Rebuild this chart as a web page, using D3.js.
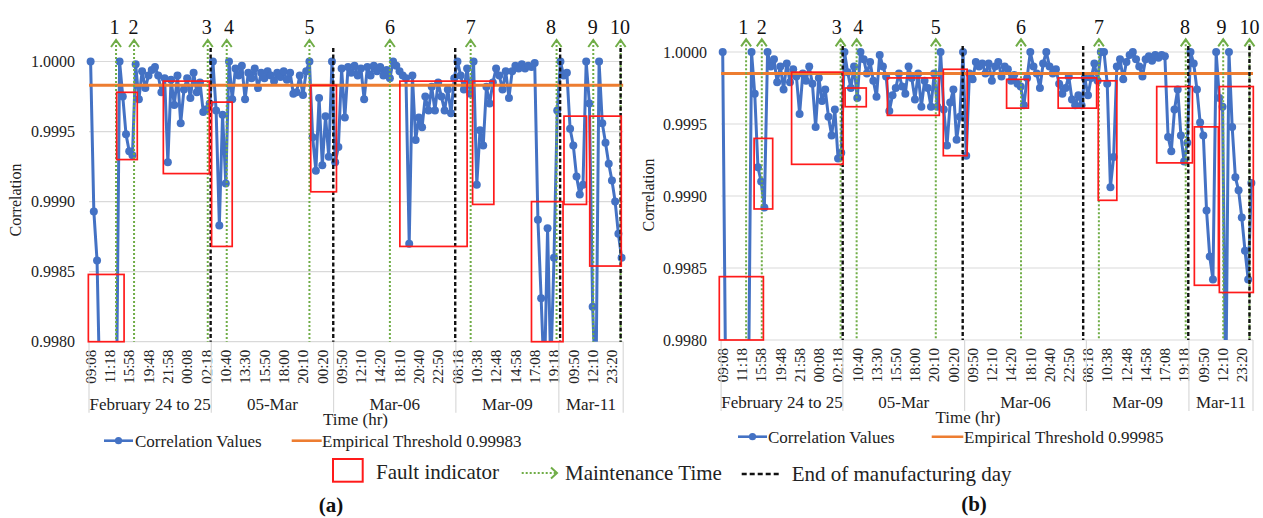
<!DOCTYPE html>
<html><head><meta charset="utf-8">
<script src="https://cdn.jsdelivr.net/npm/d3@7"></script>
<style>
body{margin:0;background:#fff}
</style>
</head><body>
<svg id="chart" width="1263" height="518" font-family="'Liberation Serif', Tinos, 'DejaVu Serif', serif"></svg>
<script>
// ---------------- DATA ----------------
const tickLabels = ["09:08","11:18","15:58","19:48","21:58","00:08","02:18",
  "10:40","13:30","15:50","18:00","20:10","00:20",
  "09:50","12:10","14:20","18:10","20:40","22:50",
  "08:18","10:38","12:48","14:58","17:08","19:18",
  "09:50","12:10","23:20"];
const tickEvery = 6;
const nCategories = 166;
const groupNames = ["February 24 to 25","05-Mar","Mar-06","Mar-09","Mar-11"];
const groupStarts = [0,38,76,114,146];
const yTicks = [0.9980,0.9985,0.9990,0.9995,1.0000];
const yDomain = [0.998,1.0];

const correlationA = [
1.00000,0.99893,0.99858,0.99750,0.99750,0.99750,0.99750,0.99750,0.99750,1.00000,
0.99975,0.99948,0.99936,0.99933,0.99998,0.99973,0.99993,0.99981,0.99990,0.99994,
0.99996,0.99990,0.99978,0.99988,0.99928,0.99987,0.99969,0.99990,0.99956,0.99980,
0.99988,0.99974,0.99992,0.99978,0.99985,0.99964,0.99966,0.99970,1.00000,0.99965,
0.99883,0.99962,0.99913,1.00000,0.99973,0.99995,0.99990,0.99997,0.99973,0.99992,
0.99988,0.99995,0.99981,0.99992,0.99988,0.99993,0.99990,0.99986,0.99992,0.99989,
0.99993,0.99987,0.99992,0.99977,0.99978,0.99990,0.99976,0.99993,1.00000,0.99946,
0.99922,0.99974,0.99926,0.99961,0.99932,1.00000,0.99928,0.99939,0.99995,0.99960,
0.99996,0.99992,0.99997,0.99990,0.99995,0.99973,0.99996,0.99990,0.99997,0.99993,
0.99996,0.99990,0.99994,0.99988,1.00000,0.99997,0.99993,0.99990,0.99988,0.99870,
0.99990,0.99944,0.99960,0.99953,0.99975,0.99965,0.99982,0.99965,0.99985,0.99975,
0.99965,0.99980,0.99963,0.99988,1.00000,0.99990,0.99980,0.99995,0.99977,1.00000,
0.99912,0.99951,0.99940,0.99982,0.99970,0.99985,0.99995,0.99990,0.99980,0.99993,
0.99974,0.99993,0.99997,0.99995,0.99998,0.99995,0.99997,0.99996,0.99999,0.99887,
0.99831,0.99770,0.99881,0.99780,0.99860,0.99965,1.00000,0.99990,0.99992,0.99952,
0.99940,0.99918,0.99905,0.99912,1.00000,0.99970,0.99825,0.99760,1.00000,0.99956,
0.99942,0.99927,0.99915,0.99900,0.99877,0.99860];

const correlationB = [
1.00000,0.99750,0.99750,0.99750,0.99750,0.99750,0.99750,0.99750,0.99750,1.00000,
0.99971,0.99920,0.99910,0.99892,1.00000,0.99990,0.99995,0.99979,0.99990,0.99974,
0.99992,0.99979,0.99988,0.99983,0.99957,0.99985,0.99980,0.99990,0.99978,0.99948,
0.99982,0.99966,0.99974,0.99955,0.99942,0.99960,0.99926,0.99930,1.00000,0.99986,
0.99975,0.99990,0.99968,1.00000,0.99995,0.99985,0.99993,0.99980,0.99969,0.99998,
0.99990,0.99983,0.99959,0.99970,0.99975,0.99985,0.99976,0.99971,0.99990,0.99982,
0.99967,0.99985,0.99962,0.99980,0.99975,0.99962,0.99985,0.99962,1.00000,0.99960,
0.99935,0.99965,0.99974,0.99939,0.99955,1.00000,0.99928,0.99985,0.99981,0.99993,
0.99990,0.99992,0.99985,0.99992,0.99980,0.99990,0.99993,0.99983,0.99990,0.99988,
0.99980,0.99984,0.99978,0.99976,0.99963,0.99982,1.00000,0.99990,0.99985,0.99975,
0.99992,1.00000,0.99990,0.99985,0.99988,0.99978,0.99971,0.99975,0.99983,0.99967,
0.99963,0.99970,0.99963,0.99982,0.99970,0.99982,0.99992,0.99980,1.00000,1.00000,
0.99978,0.99906,0.99927,0.99990,0.99995,0.99981,0.99993,0.99998,1.00000,0.99995,
0.99990,0.99983,0.99995,0.99997,0.99994,0.99998,0.99996,0.99998,0.99997,0.99941,
0.99931,0.99960,0.99974,0.99942,0.99924,0.99937,1.00000,0.99992,0.99974,0.99951,
0.99942,0.99890,0.99858,0.99842,1.00000,0.99968,0.99962,0.99760,1.00000,0.99948,
0.99913,0.99904,0.99885,0.99862,0.99842,0.99909];

const thresholdA = 0.99983;
const thresholdB = 0.99985;
const maintenanceLabels = ["1","2","3","4","5","6","7","8","9","10"];
const maintenanceA = [8.4,14.0,36.9,42.8,68.5,93.5,118.6,145.3,156.7,165.2];
const maintenanceB = [7.8,12.7,37.3,42.3,67.0,93.6,117.9,145.0,156.7,164.9];
const labelPosA = [7.9,13.8,36.6,43.5,68.5,93.5,118.6,143.6,156.5,165.0];
const labelPosB = [6.9,12.7,36.1,42.8,67.0,93.6,117.9,144.8,156.2,164.9];
const endOfDayA = [37.8,75.9,113.8,146.4,165.2];
const endOfDayB = [37.95,75.4,113.0,145.8,164.9];
// fault boxes: [category from, category to, upper value, lower value]
const faultsA = [
 [8.6,15.0,0.99978,0.99930],[23.1,37.4,0.99986,0.99920],[38.1,44.5,0.99971,0.99868],
 [68.9,76.9,0.99983,0.99907],[96.6,117.5,0.99986,0.99868],[119.2,125.8,0.99986,0.99898],
 [137.5,147.3,0.99900,0.99800],[147.6,154.6,0.99961,0.99898],[155.6,165.4,0.99961,0.99854],
 [-0.2,10.9,0.99848,0.99800]];
const faultsB = [
 [10.3,16.1,0.99940,0.99891],[22.0,38.1,0.99986,0.99922],[38.7,45.3,0.99975,0.99962],
 [51.9,68.1,0.99982,0.99956],[69.35,76.8,0.99988,0.99928],[89.1,95.9,0.99981,0.99961],
 [105.2,117.2,0.99982,0.99961],[117.7,123.5,0.99980,0.99897],[135.95,147.1,0.99976,0.99923],
 [147.7,155.2,0.99948,0.99838],[155.5,166.1,0.99976,0.99833],[-0.56,13.2,0.99844,0.99800]];

// ---------------- LAYOUT ----------------
const FONT = "'Liberation Serif', Tinos, 'DejaVu Serif', serif";
const BLUE="#4472c4", ORANGE="#ed7d31", GREEN="#70ad47", RED="#ff1a1a", GRID="#d9d9d9", INK="#222";
const svg = d3.select("#chart");

const panels = [
 {id:"a", left:89, right:623.2, top:61.5, bottom:341.7, values:correlationA, thr:thresholdA,
  maint:maintenanceA, lpos:labelPosA, eod:endOfDayA, faults:faultsA, arrowTop:40, dashTop:48,
  yTitle:[15,200], timeTitle:[355.5,425],
  leg:{y:440.7, bx0:104, bx1:133, tx:135, ox0:291.7, ox1:321.7, otx:322}, label:[331,512]},
 {id:"b", left:721.1, right:1253, top:52, bottom:340, values:correlationB, thr:thresholdB,
  maint:maintenanceB, lpos:labelPosB, eod:endOfDayB, faults:faultsB, arrowTop:39.3, dashTop:46,
  yTitle:[648,195], timeTitle:[968,423],
  leg:{y:436.7, bx0:738, bx1:767, tx:768, ox0:931.7, ox1:963.3, otx:964}, label:[974,511]}
];

function txt(sel){ return sel.append("text").attr("font-family",FONT).attr("fill",INK); }

panels.forEach(p => {
  const g = svg.append("g");
  const x = d3.scaleLinear().domain([0,nCategories]).range([p.left,p.right]);
  const y = d3.scaleLinear().domain(yDomain).range([p.bottom,p.top]);

  // gridlines
  g.selectAll(".grid").data(yTicks).join("line")
    .attr("x1",p.left).attr("x2",p.right)
    .attr("y1",d=>y(d)).attr("y2",d=>y(d))
    .attr("stroke",GRID).attr("stroke-width",1.2);
  // y tick labels
  g.selectAll(".ytl").data(yTicks).join("text")
    .attr("font-family",FONT).attr("fill",INK)
    .attr("x",p.left-14).attr("y",d=>y(d)).attr("dy","0.35em")
    .attr("text-anchor","end").attr("font-size",16)
    .text(d=>d3.format(".4f")(d));
  // y title
  txt(g).attr("transform",`translate(${p.yTitle[0]},${p.yTitle[1]}) rotate(-90)`)
    .attr("text-anchor","middle").attr("dy","0.35em").attr("font-size",16).text("Correlation");

  // x tick labels
  g.selectAll(".xtl").data(tickLabels).join("text")
    .attr("font-family",FONT).attr("fill",INK)
    .attr("transform",(d,k)=>`translate(${x(k*tickEvery+0.5)},${p.bottom+8}) rotate(-90)`)
    .attr("text-anchor","end").attr("dy","0.35em").attr("font-size",15).text(d=>d);
  // group separators
  const seps = groupStarts.concat([nCategories]);
  g.selectAll(".sep").data(seps).join("line")
    .attr("x1",d=>x(d)).attr("x2",d=>x(d))
    .attr("y1",p.bottom).attr("y2",p.bottom+71)
    .attr("stroke",GRID).attr("stroke-width",1.2);
  g.selectAll(".grp").data(groupNames).join("text")
    .attr("font-family",FONT).attr("fill",INK)
    .attr("x",(d,k)=>(x(seps[k])+x(seps[k+1]))/2).attr("y",p.bottom+68)
    .attr("text-anchor","middle").attr("font-size",17).text(d=>d);
  txt(g).attr("x",p.timeTitle[0]).attr("y",p.timeTitle[1])
    .attr("text-anchor","middle").attr("font-size",17).text("Time (hr)");

  // series (clipped at the axis)
  const clipId = "clip"+p.id;
  svg.append("clipPath").attr("id",clipId).append("rect")
    .attr("x",p.left-6).attr("y",p.top-8)
    .attr("width",p.right-p.left+12).attr("height",p.bottom-p.top+8);
  const sg = g.append("g").attr("clip-path",`url(#${clipId})`);
  const line = d3.line().x((d,i)=>x(i+0.5)).y(d=>y(d));
  sg.append("path").datum(p.values).attr("d",line)
    .attr("fill","none").attr("stroke",BLUE).attr("stroke-width",3).attr("stroke-linejoin","round");
  sg.selectAll("circle").data(p.values).join("circle")
    .attr("cx",(d,i)=>x(i+0.5)).attr("cy",d=>y(d)).attr("r",4).attr("fill",BLUE);

  // threshold
  g.append("line").attr("x1",p.left).attr("x2",p.right)
    .attr("y1",y(p.thr)).attr("y2",y(p.thr))
    .attr("stroke",ORANGE).attr("stroke-width",3);

  // maintenance lines
  g.selectAll(".mt").data(p.maint).join("line")
    .attr("x1",d=>x(d)).attr("x2",d=>x(d)).attr("y1",p.arrowTop+1).attr("y2",p.bottom)
    .attr("stroke",GREEN).attr("stroke-width",2).attr("stroke-dasharray","2,2");
  g.selectAll(".mta").data(p.maint).join("path")
    .attr("d",d=>`M${x(d)-5},${p.arrowTop+7} L${x(d)},${p.arrowTop} L${x(d)+5},${p.arrowTop+7}`)
    .attr("fill","none").attr("stroke",GREEN).attr("stroke-width",2);
  g.selectAll(".mtl").data(maintenanceLabels).join("text")
    .attr("font-family",FONT).attr("fill","#111")
    .attr("x",(d,k)=>x(p.lpos[k])).attr("y",34)
    .attr("text-anchor","middle").attr("font-size",20).text(d=>d);

  // end of day lines
  g.selectAll(".eod").data(p.eod).join("line")
    .attr("x1",d=>x(d)).attr("x2",d=>x(d)).attr("y1",p.dashTop).attr("y2",p.bottom)
    .attr("stroke","#111").attr("stroke-width",2.4).attr("stroke-dasharray","4,2.5");

  // fault rectangles
  g.selectAll(".ft").data(p.faults).join("rect")
    .attr("x",d=>x(d[0])).attr("width",d=>x(d[1])-x(d[0]))
    .attr("y",d=>y(d[2])).attr("height",d=>y(d[3])-y(d[2]))
    .attr("fill","none").attr("stroke",RED).attr("stroke-width",1.7);

  // legend row 1
  const L = p.leg;
  g.append("line").attr("x1",L.bx0).attr("x2",L.bx1).attr("y1",L.y).attr("y2",L.y)
    .attr("stroke",BLUE).attr("stroke-width",2.6);
  g.append("circle").attr("cx",(L.bx0+L.bx1)/2).attr("cy",L.y).attr("r",3.6).attr("fill",BLUE);
  txt(g).attr("x",L.tx).attr("y",L.y).attr("dy","0.35em").attr("font-size",17).text("Correlation Values");
  g.append("line").attr("x1",L.ox0).attr("x2",L.ox1).attr("y1",L.y).attr("y2",L.y)
    .attr("stroke",ORANGE).attr("stroke-width",2.6);
  txt(g).attr("x",L.otx).attr("y",L.y).attr("dy","0.35em").attr("font-size",17)
    .text("Empirical Threshold " + p.thr.toFixed(5));

  // panel label
  txt(g).attr("x",p.label[0]).attr("y",p.label[1]).attr("text-anchor","middle")
    .attr("font-size",21).attr("font-weight","bold").attr("fill","#111").text(`(${p.id})`);
});

// shared legend row 2
const lg = svg.append("g");
lg.append("rect").attr("x",333).attr("y",459).attr("width",29.7).attr("height",22.7)
  .attr("fill","none").attr("stroke",RED).attr("stroke-width",2);
txt(lg).attr("x",376).attr("y",472).attr("dy","0.35em").attr("font-size",21).text("Fault indicator");
lg.append("line").attr("x1",521.7).attr("x2",556).attr("y1",473).attr("y2",473)
  .attr("stroke",GREEN).attr("stroke-width",2).attr("stroke-dasharray","2,2");
lg.append("path").attr("d","M551,467.5 L557,473 L551,478.5").attr("fill","none")
  .attr("stroke",GREEN).attr("stroke-width",2);
txt(lg).attr("x",565).attr("y",473).attr("dy","0.35em").attr("font-size",21).text("Maintenance Time");
lg.append("line").attr("x1",741.7).attr("x2",780).attr("y1",474).attr("y2",474)
  .attr("stroke","#111").attr("stroke-width",2.4).attr("stroke-dasharray","5,3");
txt(lg).attr("x",791.7).attr("y",474).attr("dy","0.35em").attr("font-size",21).text("End of manufacturing day");
</script>
</body></html>
